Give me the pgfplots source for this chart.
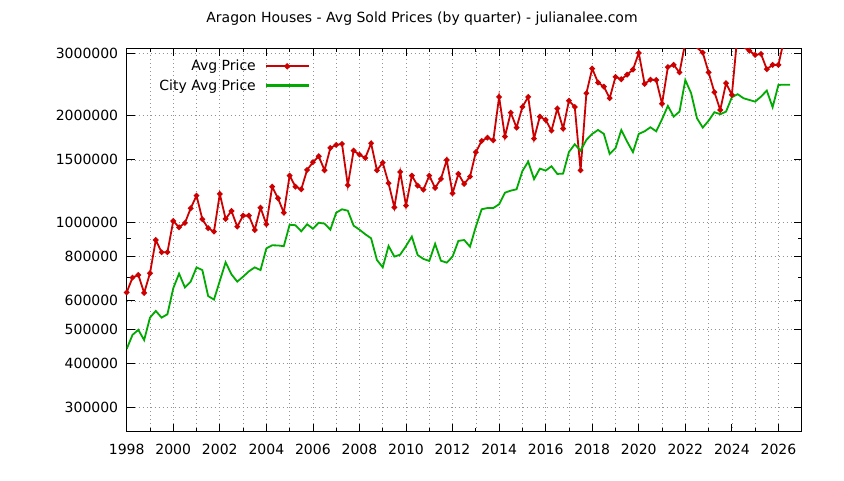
\documentclass[border=0pt]{standalone}
\usepackage{fontspec}
\setmainfont{DejaVu Sans}
\usepackage{pgfplots}
\pgfplotsset{compat=1.18}
\definecolor{avgred}{RGB}{204,0,0}
\definecolor{citygreen}{RGB}{0,170,0}

\pgfplotstableread{
t value
1998.00 634000
1998.25 698000
1998.50 710000
1998.75 632000
1999.00 718000
1999.25 891000
1999.50 823000
1999.75 823000
2000.00 1008000
2000.25 968000
2000.50 995000
2000.75 1095000
2001.00 1189000
2001.25 1020000
2001.50 962000
2001.75 941000
2002.00 1202000
2002.25 1022000
2002.50 1076000
2002.75 972000
2003.00 1044000
2003.25 1044000
2003.50 951000
2003.75 1099000
2004.00 987000
2004.25 1260000
2004.50 1169000
2004.75 1064000
2005.00 1354000
2005.25 1260000
2005.50 1239000
2005.75 1405000
2006.00 1477000
2006.25 1536000
2006.50 1402000
2006.75 1621000
2007.00 1653000
2007.25 1664000
2007.50 1272000
2007.75 1593000
2008.00 1552000
2008.25 1519000
2008.50 1671000
2008.75 1402000
2009.00 1473000
2009.25 1289000
2009.50 1102000
2009.75 1387000
2010.00 1114000
2010.25 1354000
2010.50 1269000
2010.75 1236000
2011.00 1354000
2011.25 1250000
2011.50 1325000
2011.75 1499000
2012.00 1207000
2012.25 1369000
2012.50 1283000
2012.75 1345000
2013.00 1577000
2013.25 1696000
2013.50 1733000
2013.75 1704000
2014.00 2258000
2014.25 1745000
2014.50 2039000
2014.75 1850000
2015.00 2116000
2015.25 2258000
2015.50 1722000
2015.75 1987000
2016.00 1945000
2016.25 1814000
2016.50 2093000
2016.75 1838000
2017.00 2204000
2017.25 2116000
2017.50 1402000
2017.75 2313000
2018.00 2715000
2018.25 2479000
2018.50 2414000
2018.75 2239000
2019.00 2572000
2019.25 2533000
2019.50 2610000
2019.75 2697000
2020.00 3006000
2020.25 2458000
2020.50 2526000
2020.75 2520000
2021.00 2160000
2021.25 2742000
2021.50 2781000
2021.75 2648000
2022.00 3220000
2022.25 3350000
2022.50 3110000
2022.75 3012000
2023.00 2648000
2023.25 2328000
2023.50 2075000
2023.75 2469000
2024.00 2288000
2024.25 3440000
2024.50 3120000
2024.75 3050000
2025.00 2967000
2025.25 2987000
2025.50 2704000
2025.75 2781000
2026.00 2781000
2026.25 3300000
}\avgprice

\pgfplotstableread{
t value
1998.00 439000
1998.25 481000
1998.50 497000
1998.75 465000
1999.00 538000
1999.25 562000
1999.50 538000
1999.75 550000
2000.00 651000
2000.25 716000
2000.50 655000
2000.75 680000
2001.00 746000
2001.25 733000
2001.50 619000
2001.75 605000
2002.00 683000
2002.25 771000
2002.50 713000
2002.75 680000
2003.00 702000
2003.25 727000
2003.50 746000
2003.75 733000
2004.00 844000
2004.25 861000
2004.50 860000
2004.75 856000
2005.00 984000
2005.25 981000
2005.50 943000
2005.75 987000
2006.00 959000
2006.25 997000
2006.50 991000
2006.75 953000
2007.00 1064000
2007.25 1088000
2007.50 1078000
2007.75 978000
2008.00 953000
2008.25 925000
2008.50 901000
2008.75 783000
2009.00 746000
2009.25 857000
2009.50 800000
2009.75 810000
2010.00 857000
2010.25 911000
2010.50 808000
2010.75 788000
2011.00 778000
2011.25 869000
2011.50 779000
2011.75 769000
2012.00 800000
2012.25 886000
2012.50 891000
2012.75 853000
2013.00 972000
2013.25 1088000
2013.50 1097000
2013.75 1097000
2014.00 1124000
2014.25 1212000
2014.50 1228000
2014.75 1239000
2015.00 1395000
2015.25 1483000
2015.50 1323000
2015.75 1417000
2016.00 1399000
2016.25 1439000
2016.50 1369000
2016.75 1372000
2017.00 1579000
2017.25 1660000
2017.50 1593000
2017.75 1708000
2018.00 1776000
2018.25 1822000
2018.50 1776000
2018.75 1559000
2019.00 1618000
2019.25 1822000
2019.50 1689000
2019.75 1577000
2020.00 1776000
2020.25 1806000
2020.50 1854000
2020.75 1806000
2021.00 1954000
2021.25 2130000
2021.50 1987000
2021.75 2053000
2022.00 2520000
2022.25 2313000
2022.50 1967000
2022.75 1850000
2023.00 1935000
2023.25 2045000
2023.50 2018000
2023.75 2053000
2024.00 2254000
2024.25 2298000
2024.50 2239000
2024.75 2214000
2025.00 2190000
2025.25 2262000
2025.50 2353000
2025.75 2112000
2026.00 2441000
2026.25 2445000
2026.50 2445000
}\cityprice

\begin{document}
\begin{tikzpicture}[font=\fontsize{14}{17}\selectfont]
\useasboundingbox (0pt,0pt) rectangle (844pt,480pt);
\node at (422pt,461pt) {Aragon Houses - Avg Sold Prices (by quarter) - julianalee.com};
\begin{axis}[
  at={(126.7pt,48.3pt)}, anchor=south west,
  scale only axis, width=675pt, height=383.4pt,
  ymode=log,
  xmin=1998, xmax=2027, ymin=256400, ymax=3098000,
  xtick={1998,2000,...,2026},
  xticklabels={1998,2000,2002,2004,2006,2008,2010,2012,2014,2016,2018,2020,2022,2024,2026},
  minor xtick={1999,2001,...,2025},
  ytick={300000,400000,500000,600000,800000,1000000,1500000,2000000,3000000},
  yticklabels={300000,400000,500000,600000,800000,1000000,1500000,2000000,3000000},
  minor ytick={700000,900000},
  tickpos=both, tick align=inside,
  major tick length=8pt, minor tick length=4pt,
  tick style={black, line width=0.8pt},
  axis line style={line width=1pt},
  xmajorgrids=true, xminorgrids=true, ymajorgrids=true,
  grid style={gray!85, dash pattern=on 1pt off 3pt, line width=0.7pt},
  tick label style={font=\fontsize{14}{17}\selectfont},
  xticklabel style={yshift=-9pt},
  yticklabel style={xshift=-5pt},
  legend plot pos=right,
  legend cell align=right,
  legend style={draw=none, fill=none, at={(0.2713,0.9744)}, anchor=north east,
    font=\fontsize{14}{17}\selectfont, inner sep=0pt, row sep=3pt,
    nodes={inner sep=2pt},
    /tikz/every odd column/.append style={column sep=7pt}},
  legend image code/.code={%
    \draw[#1, line width=2.2pt, mark repeat=2, mark phase=2]
      plot coordinates {(0pt,0pt) (21.3pt,0pt) (42.6pt,0pt)};},
]
\addplot[avgred, line width=1.8pt, mark=*, mark size=1.8pt, mark options={solid}] table[x=t, y=value] {\avgprice};
\addlegendentry{Avg Price}
\addplot[citygreen, line width=1.8pt] table[x=t, y=value] {\cityprice};
\addlegendentry{City Avg Price}
\end{axis}
\end{tikzpicture}
\end{document}
